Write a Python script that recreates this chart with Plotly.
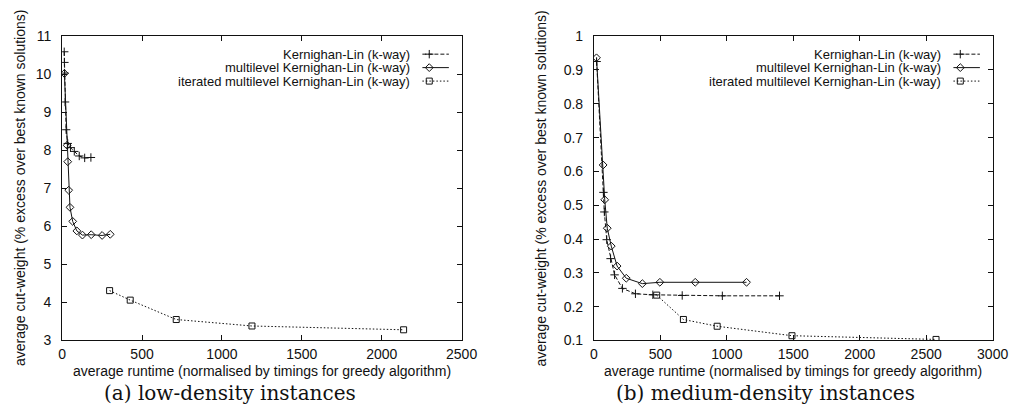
import plotly.graph_objects as go

# ---------------- data ----------------
# (a) low-density instances
kl_a_x = [13, 14, 15, 18, 25, 35, 52, 76, 107, 141, 180]
kl_a_y = [10.59, 10.31, 10.03, 9.27, 8.54, 8.18, 8.07, 7.97, 7.85, 7.80, 7.81]
ml_a_x = [14, 31, 35, 41, 49, 66, 92, 127, 182, 250, 301]
ml_a_y = [10.02, 8.13, 7.70, 6.95, 6.50, 6.13, 5.88, 5.77, 5.78, 5.76, 5.79]
it_a_x = [297, 426, 714, 1188, 2137]
it_a_y = [4.31, 4.06, 3.55, 3.38, 3.28]

# (b) medium-density instances
kl_b_x = [20, 71, 78, 96, 125, 155, 214, 312, 443, 664, 966, 1396]
kl_b_y = [0.925, 0.538, 0.480, 0.398, 0.342, 0.294, 0.254, 0.238, 0.235, 0.233, 0.232, 0.232]
ml_b_x = [19, 69, 81, 100, 130, 174, 243, 364, 496, 762, 1148]
ml_b_y = [0.936, 0.619, 0.516, 0.432, 0.379, 0.320, 0.284, 0.268, 0.272, 0.272, 0.272]
it_b_x = [472, 673, 927, 1490, 2574]
it_b_y = [0.234, 0.162, 0.142, 0.114, 0.103]

series_names = ["Kernighan-Lin (k-way)",
                "multilevel Kernighan-Lin (k-way)",
                "iterated multilevel Kernighan-Lin (k-way)"]
x_title = "average runtime (normalised by timings for greedy algorithm)"
y_title = "average cut-weight (% excess over best known solutions)"
captions = ["(a) low-density instances", "(b) medium-density instances"]

# ---------------- styling ----------------
W, H = 1026, 417
SANS = "Liberation Sans, Arial, sans-serif"
SERIF = "DejaVu Serif, serif"
BLACK = "#111111"

styles = [
    dict(symbol="cross-thin-open", dash="4px,2px", size=6),
    dict(symbol="diamond-open", dash="solid", size=6),
    dict(symbol="square-open", dash="1.5px,2px", size=6),
]

# plot areas in pixels (left, right, top, bottom)
areas = [(59.3, 466.7, 29.3, 345.7), (601.7, 1008.3, 29.3, 345.7)]


def px_x(p):
    return p / W


def px_y(p):
    return 1 - p / H


fig = go.Figure()

panels = [
    ((kl_a_x, kl_a_y), (ml_a_x, ml_a_y), (it_a_x, it_a_y)),
    ((kl_b_x, kl_b_y), (ml_b_x, ml_b_y), (it_b_x, it_b_y)),
]

for pi, panel in enumerate(panels):
    xa = "x" if pi == 0 else "x2"
    ya = "y" if pi == 0 else "y2"
    for si, (xs, ys) in enumerate(panel):
        st = styles[si]
        fig.add_trace(go.Scatter(
            x=xs, y=ys, xaxis=xa, yaxis=ya, mode="lines+markers",
            line=dict(color=BLACK, width=1, dash=st["dash"]),
            marker=dict(symbol=st["symbol"], size=st["size"], color=BLACK,
                        line=dict(color=BLACK, width=1)),
            showlegend=False, name=series_names[si],
        ))

# legend (gnuplot style: text right-aligned, sample to the right)
legend_rows = [48.0, 62.0, 76.0]
annotations = []
for pi, (l, r, t, b) in enumerate(areas):
    text_right = r - 51
    s0, s1 = r - 40, r - 13
    sm = s0 + 7
    for si, name in enumerate(series_names):
        yy = legend_rows[si]
        annotations.append(dict(
            text=name, xref="paper", yref="paper", x=px_x(text_right), y=px_y(yy),
            xanchor="right", yanchor="middle", showarrow=False,
            font=dict(family=SANS, size=13, color=BLACK)))
        st = styles[si]
        fig.add_trace(go.Scatter(
            x=[s0, s1], y=[yy, yy], xaxis="x3", yaxis="y3", mode="lines",
            line=dict(color=BLACK, width=1, dash=st["dash"]),
            showlegend=False, hoverinfo="skip"))
        fig.add_trace(go.Scatter(
            x=[sm], y=[yy], xaxis="x3", yaxis="y3", mode="markers",
            marker=dict(symbol=st["symbol"], size=st["size"], color=BLACK,
                        line=dict(color=BLACK, width=1)),
            showlegend=False, hoverinfo="skip"))

# axis titles and captions
ytitle_x = [17, 548]
caption_x = [231, 777]
for pi, (l, r, t, b) in enumerate(areas):
    annotations.append(dict(
        text=x_title, xref="paper", yref="paper", x=px_x((l + r) / 2), y=px_y(378),
        xanchor="center", yanchor="middle", showarrow=False,
        font=dict(family=SANS, size=14, color=BLACK)))
    annotations.append(dict(
        text=y_title, xref="paper", yref="paper", x=px_x(ytitle_x[pi]), y=px_y((t + b) / 2),
        xanchor="center", yanchor="middle", showarrow=False, textangle=-90,
        font=dict(family=SANS, size=14, color=BLACK)))
    annotations.append(dict(
        text=captions[pi], xref="paper", yref="paper", x=px_x(caption_x[pi]), y=px_y(400),
        xanchor="center", yanchor="middle", showarrow=False,
        font=dict(family=SERIF, size=20, color=BLACK)))

axis_common = dict(
    showline=True, linecolor=BLACK, linewidth=1, mirror="ticks",
    ticks="inside", ticklen=5, tickwidth=1, tickcolor=BLACK,
    showgrid=False, zeroline=False,
    tickfont=dict(family=SANS, size=14, color=BLACK),
)

(l1, r1, t1, b1), (l2, r2, t2, b2) = areas
fig.update_layout(
    width=W, height=H,
    margin=dict(l=0, r=0, t=0, b=0),
    paper_bgcolor="white", plot_bgcolor="rgba(0,0,0,0)",
    xaxis=dict(domain=[px_x(l1), px_x(r1)], range=[0, 2500], dtick=500, anchor="y",
               ticklabelstandoff=1, **axis_common),
    yaxis=dict(domain=[px_y(b1), px_y(t1)], range=[3, 11], dtick=1, anchor="x",
               ticklabelstandoff=7, **axis_common),
    xaxis2=dict(domain=[px_x(l2), px_x(r2)], range=[0, 3000], dtick=500, anchor="y2",
                ticklabelstandoff=1, **axis_common),
    yaxis2=dict(domain=[px_y(b2), px_y(t2)], range=[0.1, 1], dtick=0.1, anchor="x2",
                ticklabelstandoff=7, **axis_common),
    xaxis3=dict(domain=[0, 1], range=[0, W], visible=False, anchor="y3", fixedrange=True),
    yaxis3=dict(domain=[0, 1], range=[H, 0], visible=False, anchor="x3", fixedrange=True),
    annotations=annotations,
    showlegend=False,
)

fig.write_html("out.html",
               config={"displayModeBar": False},
               post_script="document.body.style.margin='0';document.body.style.padding='0';")
